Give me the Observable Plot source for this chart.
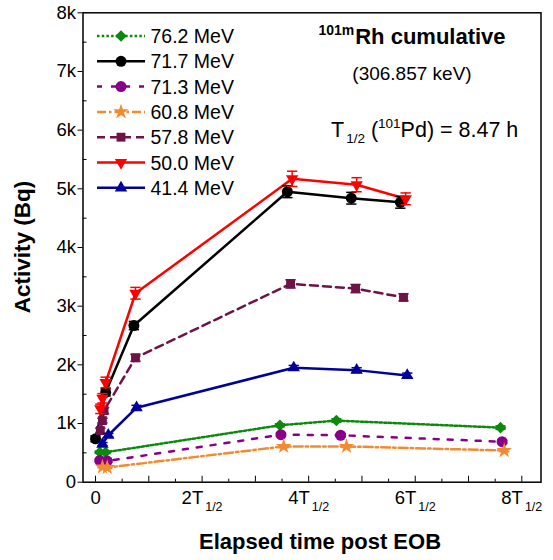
<!DOCTYPE html>
<html><head><meta charset="utf-8">
<script src="https://cdn.jsdelivr.net/npm/d3@7"></script>
<script src="https://cdn.jsdelivr.net/npm/@observablehq/plot@0.6"></script>
<style>
body{margin:0;background:#fff;font-family:"Liberation Sans",Arial,sans-serif;}
#wrap{position:relative;width:553px;height:560px;}
#ov{position:absolute;left:0;top:0;pointer-events:none;}
</style></head><body><div id="wrap"></div>
<script>
// ---- data (time in units of T1/2 of 101Pd, activity in Bq) ----
const energies = ["76.2 MeV","71.7 MeV","71.3 MeV","60.8 MeV","57.8 MeV","50.0 MeV","41.4 MeV"];
const t_76_2 = [0.08, 0.19, 3.46, 4.52, 7.60];
const a_76_2 = [510, 510, 970, 1050, 930];
const e_76_2 = [20, 20, 25, 30, 30];
const t_71_7 = [0.00, 0.19, 0.72, 3.60, 4.80, 5.72];
const a_71_7 = [740, 1530, 2670, 4950, 4840, 4770];
const e_71_7 = [50, 60, 70, 100, 100, 100];
const t_71_3 = [0.08, 0.22, 3.48, 4.60, 7.63];
const a_71_3 = [370, 360, 810, 800, 690];
const e_71_3 = [20, 20, 25, 25, 25];
const t_60_8 = [0.13, 0.22, 3.53, 4.71, 7.67];
const a_60_8 = [260, 250, 610, 610, 540];
const e_60_8 = [15, 15, 20, 20, 20];
const t_57_8 = [0.09, 0.13, 0.16, 0.75, 3.66, 4.88, 5.78];
const a_57_8 = [880, 1050, 1220, 2120, 3380, 3300, 3150];
const e_57_8 = [40, 40, 50, 60, 70, 70, 60];
const t_50_0 = [0.09, 0.13, 0.19, 0.75, 3.69, 4.90, 5.82];
const a_50_0 = [1250, 1430, 1700, 3220, 5170, 5070, 4830];
const e_50_0 = [80, 80, 90, 100, 130, 120, 100];
const t_41_4 = [0.13, 0.24, 0.77, 3.72, 4.90, 5.85];
const a_41_4 = [650, 800, 1270, 1950, 1910, 1820];
const e_41_4 = [25, 30, 40, 40, 40, 40];
const yTicks = [0,1000,2000,3000,4000,5000,6000,7000,8000];
const xLabelTicks = [0,2,4,6,8];

// ---- styles ----
const triDown = {draw(ctx, size){const y=Math.sqrt(size/(3*Math.sqrt(3)));const s=Math.sqrt(3)*y;ctx.moveTo(0,2*y);ctx.lineTo(-s,-y);ctx.lineTo(s,-y);ctx.closePath();}};
const capSym = {draw(ctx, size){const w=Math.sqrt(size);ctx.moveTo(-w/2,0);ctx.lineTo(w/2,0);}};
const styles = [
  {color:"#0a8a0a", dash:"2.5,2.2", symbol:d3.symbolDiamond2, r:5.2},
  {color:"#000000", dash:null, symbol:d3.symbolCircle, r:5.5},
  {color:"#880088", dash:"5,9", symbol:d3.symbolCircle, r:5.5},
  {color:"#f28b30", dash:"9,3,2.5,3", symbol:d3.symbolStar, r:4.9},
  {color:"#6e1248", dash:"8,5", symbol:d3.symbolSquare, r:5},
  {color:"#ff0000", dash:null, symbol:triDown, r:4.6},
  {color:"#00009a", dash:null, symbol:d3.symbolTriangle, r:4.6}
];
const ts = [t_76_2,t_71_7,t_71_3,t_60_8,t_57_8,t_50_0,t_41_4];
const as = [a_76_2,a_71_7,a_71_3,a_60_8,a_57_8,a_50_0,a_41_4];
const es = [e_76_2,e_71_7,e_71_3,e_60_8,e_57_8,e_50_0,e_41_4];
const series = energies.map((name,i)=>({name, ...styles[i], rows: ts[i].map((t,j)=>({t, a: as[i][j], e: es[i][j]}))}));

const marks = [];
for (const s of series) {
  marks.push(Plot.line(s.rows, {x:"t", y:"a", stroke:s.color, strokeWidth:2.5, strokeDasharray:s.dash}));
}
for (const s of series) {
  marks.push(Plot.ruleX(s.rows, {x:"t", y1:d=>d.a-d.e, y2:d=>d.a+d.e, stroke:s.color, strokeWidth:1.5}));
  marks.push(Plot.dot(s.rows, {x:"t", y:d=>d.a+d.e, symbol:capSym, r:5.8, stroke:s.color, strokeWidth:1.5}));
  marks.push(Plot.dot(s.rows, {x:"t", y:d=>d.a-d.e, symbol:capSym, r:5.8, stroke:s.color, strokeWidth:1.5}));
  marks.push(Plot.dot(s.rows, {x:"t", y:"a", symbol:s.symbol, r:s.r, fill:s.color, stroke:"none"}));
}

const chart = Plot.plot({
  width:553, height:560,
  marginLeft:82.5, marginRight:12.5, marginTop:12.3, marginBottom:78.3,
  style:{fontFamily:"Liberation Sans, Arial, sans-serif", fontSize:"18px", color:"black", background:"white"},
  x:{domain:[-0.235, 8.36], label:null},
  y:{domain:[0, 8000], label:null},
  marks:[
    ...marks,
    Plot.axisY({ticks:yTicks, tickSize:5, tickPadding:2, tickFormat:d=>d===0?"0":(d/1000)+"k", label:null, fontSize:18.5}),
    Plot.axisY({ticks:d3.range(500,8000,1000), tickSize:4, dx:4, tickFormat:()=>"", label:null}),
    Plot.axisX({ticks:d3.range(0,9,1), tickSize:6, dy:-6, tickFormat:()=>"", label:null}),
    Plot.axisX({ticks:d3.range(0.5,8.5,1), tickSize:3, dy:-3, tickFormat:()=>"", label:null}),
    Plot.axisX({ticks:xLabelTicks, tickSize:0, tickPadding:9, tickFormat:d=>d===0?"0":d+"T", label:null, fontSize:18.5}),
    Plot.frame({stroke:"black", strokeWidth:1.5})
  ]
});
document.getElementById("wrap").appendChild(chart);

// subscripts on x tick labels
chart.querySelectorAll('g[aria-label="x-axis tick label"] text').forEach(t=>{
  if (t.textContent.endsWith("T")) {
    const sp = document.createElementNS("http://www.w3.org/2000/svg","tspan");
    sp.setAttribute("font-size","12.5");
    sp.setAttribute("dy","7");
    sp.setAttribute("dx","2");
    sp.textContent = "1/2";
    t.appendChild(sp);
  }
});

// ---- overlay: legend, annotations, axis titles ----
const ov = d3.select("#wrap").append("svg").attr("id","ov").attr("width",553).attr("height",560)
  .attr("font-family","Liberation Sans, Arial, sans-serif");
series.forEach((s,i)=>{
  const y = 36 + 25.3*i;
  ov.append("line").attr("x1",97).attr("x2",145).attr("y1",y).attr("y2",y)
    .attr("stroke",s.color).attr("stroke-width",2.5).attr("stroke-dasharray",s.dash);
  ov.append("path").attr("transform",`translate(121,${y})`)
    .attr("d", d3.symbol(s.symbol, Math.PI*s.r*s.r)()).attr("fill",s.color);
  ov.append("text").attr("x",150.5).attr("y",y+7).attr("font-size",19.5).text(s.name);
});
const h = ov.append("text").attr("x",412).attr("y",44).attr("text-anchor","middle").attr("font-weight","bold").attr("font-size",22);
h.append("tspan").attr("font-size",14).attr("dy",-9).text("101m");
h.append("tspan").attr("dy",9).attr("dx",1).text("Rh cumulative");
ov.append("text").attr("x",412).attr("y",80).attr("text-anchor","middle").attr("font-size",19).text("(306.857 keV)");
const tl = ov.append("text").attr("x",331).attr("y",137).attr("font-size",21.5);
tl.append("tspan").text("T");
tl.append("tspan").attr("font-size",13.5).attr("dy",6).attr("dx",2).text("1/2");
tl.append("tspan").attr("dy",-6).text(" (");
tl.append("tspan").attr("font-size",13.5).attr("dy",-9).text("101");
tl.append("tspan").attr("dy",9).text("Pd) = 8.47 h");
ov.append("text").attr("x",320).attr("y",549).attr("text-anchor","middle").attr("font-weight","bold").attr("font-size",22).text("Elapsed time post EOB");
ov.append("text").attr("transform","translate(30,247) rotate(-90)").attr("text-anchor","middle").attr("font-weight","bold").attr("font-size",22.5).text("Activity (Bq)");
</script></body></html>
